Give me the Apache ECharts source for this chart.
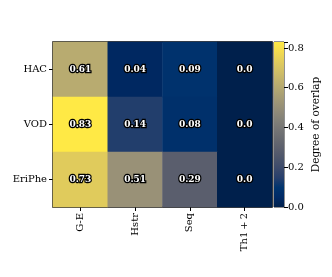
<!DOCTYPE html>
<html><head><meta charset="utf-8">
<script src="https://cdn.jsdelivr.net/npm/echarts@6/dist/echarts.min.js"></script>
<style>html,body{margin:0;padding:0;background:#fff}#c{width:332px;height:277px}</style>
</head><body><div id="c"></div>
<script>
const xCategories = ['G-E', 'Hstr', 'Seq', 'Th1\u2009+\u20092'];
const yCategories = ['HAC', 'VOD', 'EriPhe'];
const rowHAC = [0.61, 0.04, 0.09, 0.0];
const rowVOD = [0.83, 0.14, 0.08, 0.0];
const rowEriPhe = [0.73, 0.51, 0.29, 0.0];
const colorbarTicks = [0.0, 0.2, 0.4, 0.6, 0.8];
const colorbarTitle = 'Degree of overlap';

const cividis = ['rgb(0,32,76)','rgb(0,42,102)','rgb(0,52,110)','rgb(39,63,108)','rgb(60,74,107)','rgb(76,85,107)','rgb(91,95,109)','rgb(104,106,112)','rgb(117,117,117)','rgb(131,129,120)','rgb(146,140,120)','rgb(161,152,118)','rgb(176,165,114)','rgb(192,177,109)','rgb(209,191,102)','rgb(225,204,92)','rgb(243,219,79)','rgb(255,233,69)'];

const rows = [rowHAC, rowVOD, rowEriPhe];
const data = [];
rows.forEach((r, yi) => r.forEach((v, xi) => data.push([xi, yi, v])));
const vmax = Math.max(...rows.flat());
const font = 'DejaVu Serif';

const chart = echarts.init(document.getElementById('c'), null, {renderer: 'canvas'});
chart.setOption({
  animation: false,
  backgroundColor: '#fff',
  grid: [
    {left: 53, top: 42, width: 219, height: 165, show: true, borderColor: '#000', borderWidth: 1.5, backgroundColor: 'transparent', containLabel: false},
    {left: 274, top: 42, width: 10, height: 165, show: true, borderColor: '#222', borderWidth: 1, containLabel: false}
  ],
  xAxis: [
    {type: 'category', data: xCategories, gridIndex: 0, position: 'bottom',
     axisLine: {show: false}, splitLine: {show: false},
     axisTick: {show: true, alignWithLabel: true, length: 4, lineStyle: {color: '#000'}},
     axisLabel: {rotate: 90, fontFamily: font, fontSize: 10, color: '#000', margin: 6}},
    {type: 'category', data: [''], gridIndex: 1, show: false}
  ],
  yAxis: [
    {type: 'category', data: yCategories, gridIndex: 0, inverse: true,
     axisLine: {show: false}, splitLine: {show: false},
     axisTick: {show: true, alignWithLabel: true, length: 4, lineStyle: {color: '#000'}},
     axisLabel: {fontFamily: font, fontSize: 10, color: '#000', margin: 6}},
    {type: 'value', gridIndex: 1, min: 0, max: vmax, interval: 0.2, position: 'right',
     axisLine: {show: false}, splitLine: {show: false},
     axisTick: {show: true, length: 4, lineStyle: {color: '#000'}},
     axisLabel: {fontFamily: font, fontSize: 10, color: '#000', margin: 4,
       formatter: v => colorbarTicks.some(t => Math.abs(t - v) < 1e-9) ? v.toFixed(1) : ''},
     name: colorbarTitle, nameLocation: 'middle', nameRotate: 90, nameGap: 27,
     nameTextStyle: {fontFamily: font, fontSize: 10.5, color: '#000'}}
  ],
  visualMap: {show: false, type: 'continuous', min: 0, max: vmax, seriesIndex: 0, inRange: {color: cividis}},
  series: [
    {type: 'heatmap', xAxisIndex: 0, yAxisIndex: 0, data: data,
     label: {show: true, fontFamily: font, fontSize: 9, fontWeight: 'bold', color: '#fff',
       textBorderColor: '#000', textBorderWidth: 2.5,
       formatter: p => { const v = p.value[2]; return v === 0 ? '0.0' : v.toFixed(2); }},
     itemStyle: {borderWidth: 0}},
    {type: 'bar', xAxisIndex: 1, yAxisIndex: 1, data: [vmax], barWidth: '100%', silent: true,
     itemStyle: {color: new echarts.graphic.LinearGradient(0, 1, 0, 0,
       cividis.map((c, i) => ({offset: i / (cividis.length - 1), color: c})))}}
  ]
});
</script></body></html>
